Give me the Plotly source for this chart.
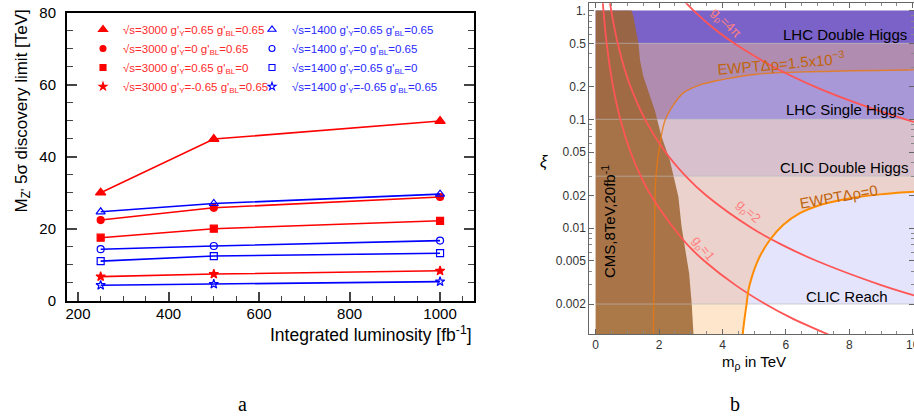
import numpy as np
import plotly.graph_objects as go

W, H = 914, 416
def px(x): return x / W
def py(y): return 1 - y / H

# ---------------- Panel a data ----------------
lumi = [250, 500, 1000]
red_tri = [30.0, 44.9, 49.9]
red_circ = [22.4, 25.8, 28.8]
red_sq = [17.5, 20.0, 22.2]
red_star = [6.7, 7.4, 8.3]
blue_tri = [24.7, 27.0, 29.6]
blue_circ = [14.3, 15.2, 16.7]
blue_sq = [11.0, 12.4, 13.2]
blue_star = [4.3, 4.6, 5.3]

red_labels = ["√s=3000 g'<sub>Y</sub>=0.65 g'<sub>BL</sub>=0.65",
              "√s=3000 g'<sub>Y</sub>=0 g'<sub>BL</sub>=0.65",
              "√s=3000 g'<sub>Y</sub>=0.65 g'<sub>BL</sub>=0",
              "√s=3000 g'<sub>Y</sub>=-0.65 g'<sub>BL</sub>=0.65"]
blue_labels = ["√s=1400 g'<sub>Y</sub>=0.65 g'<sub>BL</sub>=0.65",
               "√s=1400 g'<sub>Y</sub>=0 g'<sub>BL</sub>=0.65",
               "√s=1400 g'<sub>Y</sub>=0.65 g'<sub>BL</sub>=0",
               "√s=1400 g'<sub>Y</sub>=-0.65 g'<sub>BL</sub>=0.65"]

# ---------------- Panel b data ----------------
band_edges = [0.002, 0.03, 0.1, 0.5, 1.0]
band_names = ["CLIC Reach", "CLIC Double Higgs", "LHC Single Higgs", "LHC Double Higgs"]

# EWPT Delta rho = 0 contour
rho0_m = [4.63, 4.64, 4.70, 4.76, 4.82, 4.92, 5.05, 5.18, 5.50, 5.92, 6.44, 7.08, 8.03, 8.97, 10.04, 10.6]
rho0_xi = [0.0009, 0.00106, 0.0015, 0.002, 0.0027, 0.0035, 0.0045, 0.0055, 0.0078, 0.0107,
           0.0137, 0.0163, 0.0188, 0.0204, 0.0216, 0.0222]
# EWPT Delta rho = 1.5e-3 contour
rho15_m = [1.82, 1.82, 1.84, 1.86, 1.90, 2.05, 2.19, 2.45, 2.76, 3.29, 4.03, 5.08, 7.0, 10.04, 10.6]
rho15_xi = [0.0009, 0.00106, 0.003, 0.01, 0.03, 0.065, 0.098, 0.135, 0.174, 0.207, 0.233,
            0.26, 0.275, 0.285, 0.286]
# g_rho curves
g1_xi = [1.2, 1.0, 0.7, 0.5, 0.3, 0.2, 0.1, 0.05, 0.03, 0.02, 0.01, 0.007, 0.005, 0.003, 0.002, 0.0015, 0.001]
g1_m = [0.225, 0.246, 0.294, 0.348, 0.449, 0.55, 0.778, 1.10, 1.42, 1.74, 2.46, 2.90, 3.42, 4.40, 5.35, 6.15, 7.5]
g2_xi = [1.2, 1.0, 0.7, 0.5, 0.3, 0.2, 0.1, 0.05, 0.03, 0.02, 0.01, 0.007, 0.005, 0.003, 0.0024, 0.002]
g2_m = [0.449, 0.492, 0.588, 0.696, 0.898, 1.10, 1.556, 2.20, 2.84, 3.48, 4.92, 5.88, 6.96, 8.98, 10.04, 11.0]
g4pi_xi = [1.2, 1.0, 0.7, 0.5, 0.4, 0.3, 0.2, 0.15, 0.12, 0.1, 0.08]
g4pi_m = [2.82, 3.09, 3.69, 4.37, 4.89, 5.64, 6.91, 7.98, 8.92, 9.77, 10.93]
# CMS 8 TeV 20 fb-1 exclusion boundary
cms_m = [0, 1.13, 1.19, 1.24, 1.29, 1.35, 1.40, 1.50, 1.61, 1.71, 1.87, 1.97, 2.08, 2.34, 2.45,
         2.61, 2.71, 2.82, 2.95, 3.03, 3.08, 3.10, 0]
cms_xi = [1.0, 1.0, 0.88, 0.71, 0.62, 0.5, 0.35, 0.25, 0.2, 0.165, 0.12, 0.092, 0.069, 0.042, 0.030,
          0.0194, 0.0103, 0.0063, 0.0038, 0.002, 0.00106, 0.0009, 0.0009]

fig = go.Figure()

# ---------------- Panel a traces ----------------
RED, BLUE = "#ff0000", "#0000ff"
series = [
    (red_tri, RED, "triangle-up", 9, red_labels[0], "legend"),
    (red_circ, RED, "circle", 7, red_labels[1], "legend"),
    (red_sq, RED, "square", 7, red_labels[2], "legend"),
    (red_star, RED, "star", 7, red_labels[3], "legend"),
    (blue_tri, BLUE, "triangle-up-open", 8, blue_labels[0], "legend2"),
    (blue_circ, BLUE, "circle-open", 7, blue_labels[1], "legend2"),
    (blue_sq, BLUE, "square-open", 7, blue_labels[2], "legend2"),
    (blue_star, BLUE, "star-open", 7, blue_labels[3], "legend2"),
]
for vals, col, sym, sz, name, lg in series:
    fig.add_trace(go.Scatter(x=lumi, y=vals, mode="lines+markers", xaxis="x", yaxis="y",
                             line=dict(color=col, width=1.6),
                             marker=dict(symbol=sym, size=sz, color=col, line=dict(color=col, width=1.2)),
                             showlegend=False))
for vals, col, sym, sz, name, lg in series:
    fig.add_trace(go.Scatter(x=[None], y=[None], mode="markers", xaxis="x", yaxis="y",
                             marker=dict(symbol=sym, size=sz - 1, color=col, line=dict(color=col, width=1.1)),
                             name=name, legend=lg, showlegend=True))

# ---------------- Panel b traces ----------------
XR = 10.6
def poly(xs, ys, color, opacity=1.0):
    fig.add_trace(go.Scatter(x=xs, y=ys, mode="lines", fill="toself", fillcolor=color,
                             line=dict(width=0, color=color), opacity=opacity,
                             xaxis="x2", yaxis="y2", showlegend=False, hoverinfo="skip"))

band_colors = ["#e4e4fc", "#d8c0cc", "#a898d8", "#7b62c8"]
for i, c in enumerate(band_colors):
    lo, hi = band_edges[i], band_edges[i + 1]
    poly([0, XR, XR, 0], [lo, lo, hi, hi], c)

r0m, r0x = np.array(rho0_m), np.array(rho0_xi)
sel = (r0x >= band_edges[0])
poly([0] + list(r0m[sel]) + [XR, 0], [band_edges[0]] + list(r0x[sel]) + [band_edges[1], band_edges[1]], "#ecd2cc")
sel = (r0x <= band_edges[0])
poly([0] + list(r0m[sel]) + [0], [r0x[0]] + list(r0x[sel]) + [band_edges[0]], "#fde6cc")

r1m, r1x = np.array(rho15_m), np.array(rho15_xi)
x01 = float(np.interp(np.log10(band_edges[2]), np.log10(r1x), r1m))
sel = r1x > band_edges[2]
poly([0, x01] + list(r1m[sel]) + [XR, 0], [band_edges[2], band_edges[2]] + list(r1x[sel]) + [band_edges[3], band_edges[3]], "#b08cb0")

poly(cms_m, cms_xi, "rgb(157,101,50)", opacity=0.86)

for e in band_edges[:4]:
    fig.add_trace(go.Scatter(x=[0, XR], y=[e, e], mode="lines", line=dict(color="rgba(185,185,185,0.65)", width=1),
                             xaxis="x2", yaxis="y2", showlegend=False, hoverinfo="skip"))

fig.add_trace(go.Scatter(x=rho15_m, y=rho15_xi, mode="lines", line=dict(color="rgba(235,120,15,0.8)", width=1.4, shape="spline"),
                         xaxis="x2", yaxis="y2", showlegend=False))
for gm, gx in [(g1_m, g1_xi), (g2_m, g2_xi), (g4pi_m, g4pi_xi)]:
    fig.add_trace(go.Scatter(x=gm, y=gx, mode="lines", line=dict(color="#ff5555", width=1.8, shape="spline"),
                             xaxis="x2", yaxis="y2", showlegend=False))
fig.add_trace(go.Scatter(x=rho0_m, y=rho0_xi, mode="lines", line=dict(color="#ff8c00", width=2, shape="spline"),
                         xaxis="x2", yaxis="y2", showlegend=False))

# ---------------- Layout ----------------
FONT = "Liberation Sans"
ytv = [1, 0.5, 0.2, 0.1, 0.05, 0.02, 0.01, 0.005, 0.002]
ytt = ["1.", "0.5", "0.2", "0.1", "0.05", "0.02", "0.01", "0.005", "0.002"]
yminor = [round(m * d, 6) for d in [0.001, 0.01, 0.1] for m in range(1, 10)]
yminor = [v for v in yminor if all(abs(v - t) > 1e-9 for t in ytv)]

fig.update_layout(
    width=W, height=H, margin=dict(l=0, r=0, t=0, b=0, autoexpand=False),
    paper_bgcolor="white", plot_bgcolor="rgba(0,0,0,0)",
    font=dict(family=FONT, color="black"),
    xaxis=dict(domain=[px(67), px(474)], range=[175.6, 1075], anchor="y",
               tickvals=[200, 400, 600, 800, 1000], ticks="inside", ticklen=9, tickwidth=1.5,
               minor=dict(dtick=50, ticks="inside", ticklen=5, tickwidth=1.2),
               showline=True, linecolor="black", linewidth=2, mirror=True,
               showgrid=False, zeroline=False, tickfont=dict(size=15), ticklabelstandoff=-2,
               automargin=False),
    yaxis=dict(domain=[py(300.7), py(12.7)], range=[0, 80], anchor="x",
               tickvals=[0, 20, 40, 60, 80], ticks="inside", ticklen=10, tickwidth=1.5,
               minor=dict(dtick=5, ticks="inside", ticklen=6, tickwidth=1.2),
               showline=True, linecolor="black", linewidth=2, mirror="ticks",
               showgrid=False, zeroline=False, tickfont=dict(size=15), ticklabelstandoff=6,
               automargin=False),
    xaxis2=dict(domain=[px(589.3), 1.0], range=[-0.2, 10.04], anchor="y2",
                tickvals=[0, 2, 4, 6, 8, 10], ticks="inside", ticklen=5, tickwidth=1, tickcolor="#666",
                minor=dict(dtick=0.5, ticks="inside", ticklen=3, tickcolor="#888"),
                showline=True, linecolor="#666", linewidth=1, mirror="ticks",
                showgrid=False, zeroline=False, tickfont=dict(size=12, color="#333"),
                ticklabeloverflow="allow", automargin=False),
    yaxis2=dict(domain=[py(334), py(3.3)], type="log", range=[np.log10(0.00106), 0.067], anchor="x2",
                tickvals=ytv, ticktext=ytt, ticks="inside", ticklen=5, tickwidth=1, tickcolor="#666",
                minor=dict(tickmode="array", tickvals=yminor, ticks="inside", ticklen=3, tickcolor="#888"),
                showline=True, linecolor="#666", linewidth=1, mirror="ticks",
                showgrid=False, zeroline=False, tickfont=dict(size=12, color="#333"),
                automargin=False),
    legend=dict(x=px(83), y=py(15), xanchor="left", yanchor="top", bgcolor="rgba(0,0,0,0)",
                font=dict(size=11.5, color="#ff2a2a", family=FONT), itemwidth=30),
    legend2=dict(x=px(252), y=py(15), xanchor="left", yanchor="top", bgcolor="rgba(0,0,0,0)",
                 font=dict(size=11.5, color="#2a2aff", family=FONT), itemwidth=30),
)

ann = []
def A(x, y, text, size=14, color="black", angle=0, xanchor="center", yanchor="middle", family=FONT):
    ann.append(dict(x=px(x), y=py(y), xref="paper", yref="paper", text=text, showarrow=False,
                    font=dict(size=size, color=color, family=family), textangle=angle,
                    xanchor=xanchor, yanchor=yanchor))

A(474, 334, "Integrated luminosity [fb<sup>-1</sup>]", size=17.5, xanchor="right")
A(22, 8, "M<sub>Z'</sub> 5σ discovery limit [TeV]", size=17, angle=-90, yanchor="top")

A(909, 34, band_names[3], size=15, xanchor="right")
A(906, 110, band_names[2], size=15, xanchor="right")
A(910, 167, band_names[1], size=15, xanchor="right")
A(847, 296, band_names[0], size=15)
A(781, 62, "EWPTΔρ=1.5x10<sup>−3</sup>", size=15, color="#c0640c", angle=-5)
A(838, 196, "EWPTΔρ=0", size=15, color="#c0640c", angle=-10)
A(748, 211, "g<sub>ρ</sub>=2", size=13, color="#ff8080", angle=42)
A(703, 248, "g<sub>ρ</sub>=1", size=13, color="#ff8080", angle=52)
A(726, 23, "g<sub>ρ</sub>=4π", size=13, color="#ff8080", angle=45)
A(608, 222, "CMS,8TeV,20fb<sup>-1</sup>", size=15, angle=-90)
A(544, 162, "<i>ξ</i>", size=16)
A(754, 362, "m<sub>ρ</sub> in TeV", size=15)
A(243, 404, "a", size=20, family="Liberation Serif")
A(735, 404, "b", size=20, family="Liberation Serif")

fig.update_layout(annotations=ann)
fig.write_html("out.html")
